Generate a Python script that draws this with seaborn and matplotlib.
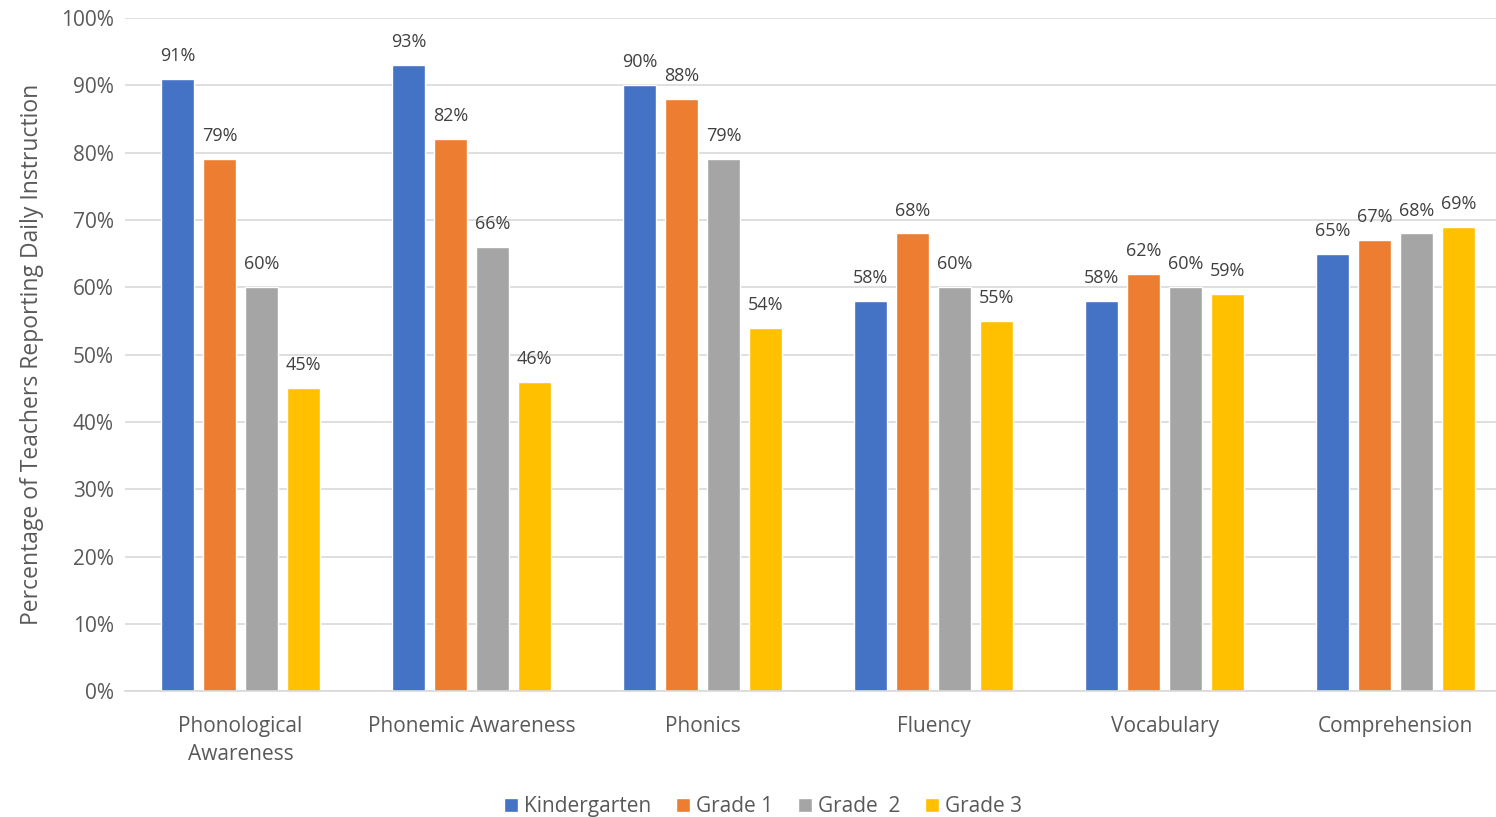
import pandas as pd
import seaborn as sns
from matplotlib import pyplot as plt
from matplotlib.ticker import PercentFormatter

# Chart data
skills = ["Phonological\nAwareness", "Phonemic Awareness", "Phonics", "Fluency", "Vocabulary", "Comprehension"]
grades = ["Kindergarten", "Grade 1", "Grade  2", "Grade 3"]
kindergarten = [91, 93, 90, 58, 58, 65]
grade_1 = [79, 82, 88, 68, 62, 67]
grade_2 = [60, 66, 79, 60, 60, 68]
grade_3 = [45, 46, 54, 55, 59, 69]
colors = ["#4472C4", "#ED7D31", "#A5A5A5", "#FFC000"]

rows = []
for grade, values in zip(grades, [kindergarten, grade_1, grade_2, grade_3]):
    for skill, v in zip(skills, values):
        rows.append({"Skill": skill, "Grade": grade, "Pct": v})
df = pd.DataFrame(rows)

sns.set_style("white")
plt.rcParams["font.family"] = ["Open Sans", "DejaVu Sans"]
text_color = "#595959"

fig = plt.figure(figsize=(14.96, 8.17), dpi=100)
ax = fig.add_axes([0.0836, 0.154, 0.9265, 0.824])

sns.barplot(data=df, x="Skill", y="Pct", hue="Grade", palette=colors,
            width=0.727, gap=0.21, ax=ax, saturation=1, legend=True)

# Value labels above bars
for container in ax.containers:
    ax.bar_label(container, labels=[f"{int(round(b.get_height()))}%" for b in container],
                 padding=10, fontsize=13, color="#404040")

ax.set_ylim(0, 100)
ax.set_xlim(-0.5, 5.5)
ax.set_yticks(range(0, 101, 10))
ax.yaxis.set_major_formatter(PercentFormatter(decimals=0))
ax.grid(axis="y", color="#D9D9D9", linewidth=1.2)
ax.set_axisbelow(True)
for side in ["top", "right", "left"]:
    ax.spines[side].set_visible(False)
ax.spines["bottom"].set_color("#D9D9D9")
ax.spines["bottom"].set_linewidth(1.2)
ax.tick_params(axis="both", length=0, labelsize=15, colors=text_color, pad=8)
ax.tick_params(axis="x", pad=18)
for lbl in ax.get_xticklabels():
    lbl.set_linespacing(1.45)
ax.set_xlabel("")
ax.set_ylabel("Percentage of Teachers Reporting Daily Instruction", fontsize=16.5, color=text_color, labelpad=12)

handles, labels = ax.get_legend_handles_labels()
ax.legend(handles, labels, loc="lower center", bbox_to_anchor=((763 / 1496 - 0.0836) / 0.9265, -0.215),
          ncol=4, frameon=False, fontsize=15, labelcolor=text_color,
          handlelength=0.65, handleheight=0.65, handletextpad=0.3, columnspacing=1.2)

fig.savefig("out.png", dpi=100)
